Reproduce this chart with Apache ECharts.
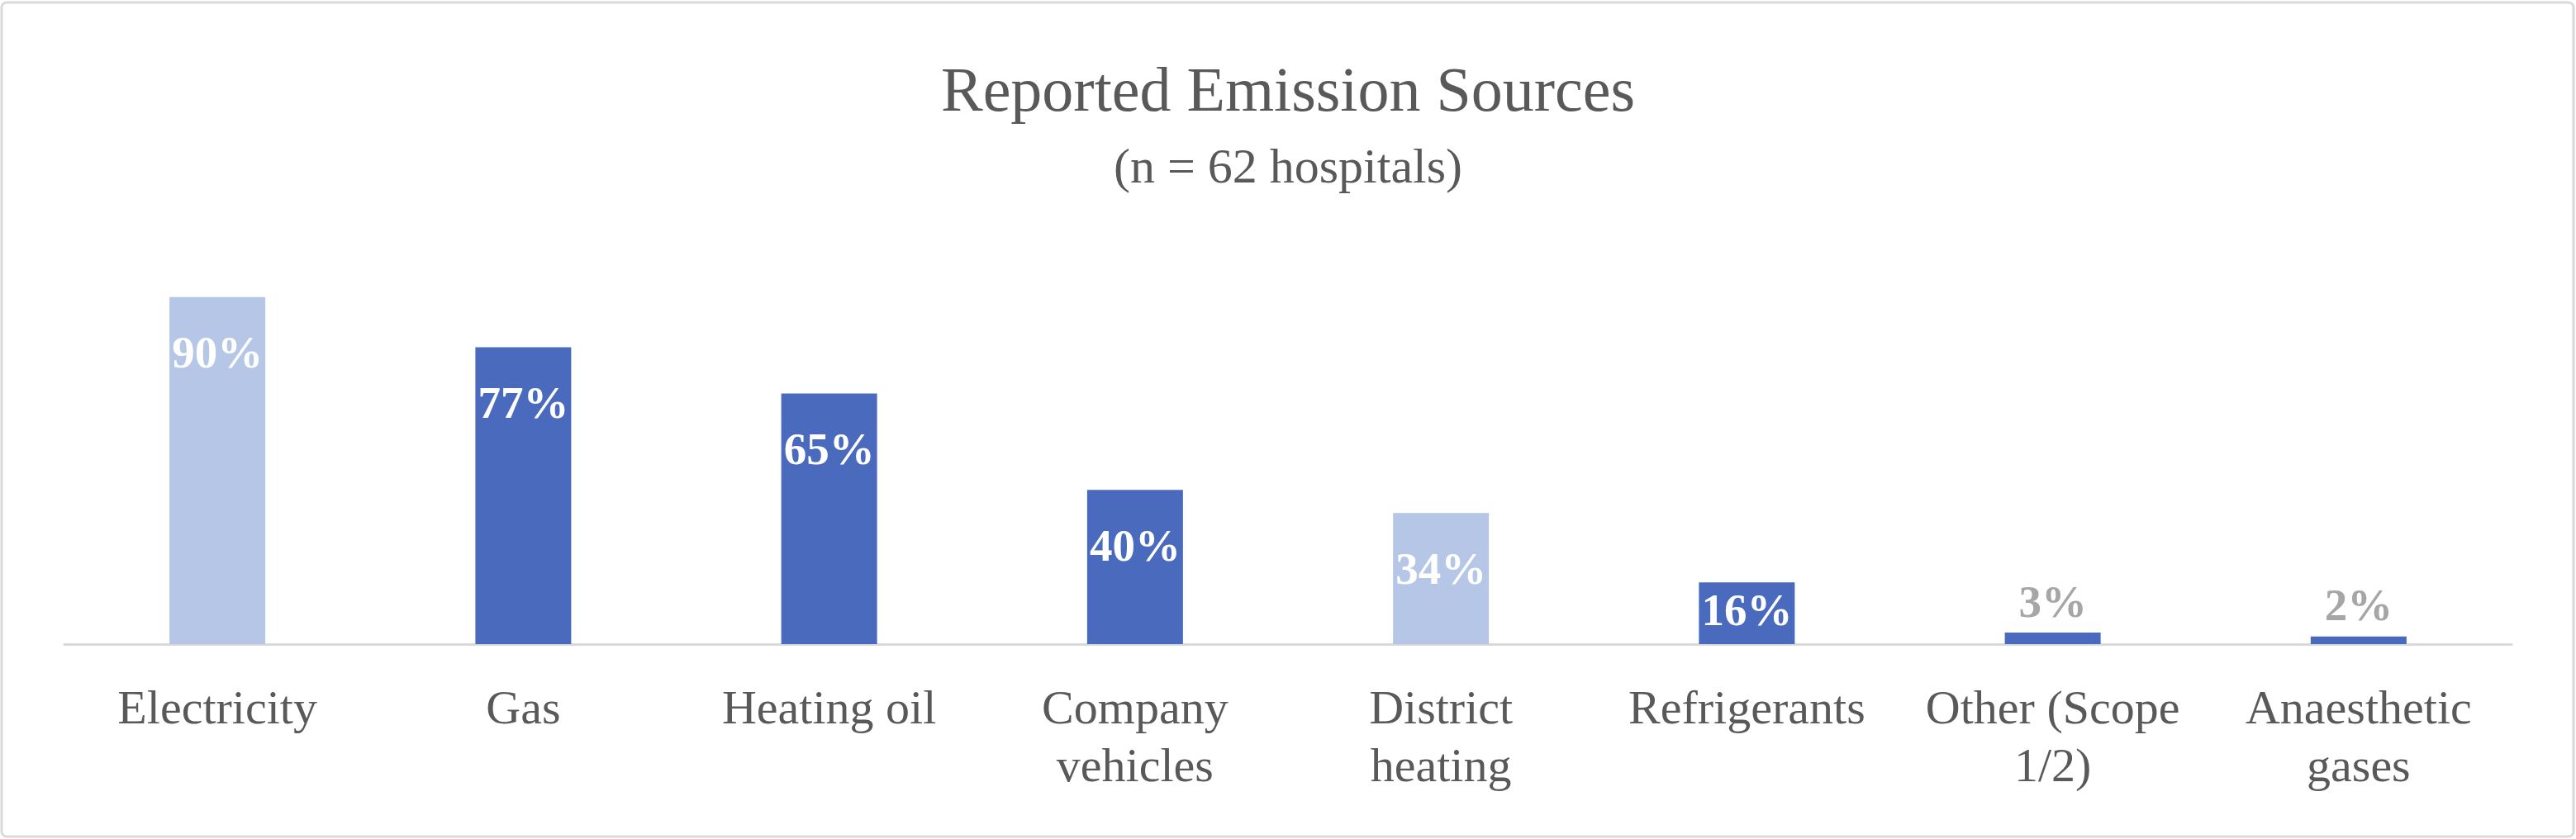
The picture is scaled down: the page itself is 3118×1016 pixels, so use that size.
<!DOCTYPE html>
<html>
<head>
<meta charset="utf-8">
<script src="https://cdn.jsdelivr.net/npm/echarts@6/dist/echarts.min.js"></script>
<style>
html,body{margin:0;padding:0;background:#fff;}
#chart{width:3118px;height:1016px;}
</style>
</head>
<body>
<div id="chart"></div>
<script>
// ---- data ----
const categories = ['Electricity', 'Gas', 'Heating oil', 'Company\nvehicles', 'District\nheating', 'Refrigerants', 'Other (Scope\n1/2)', 'Anaesthetic\ngases'];
const values = [90, 77, 65, 40, 34, 16, 3, 2];
const titleText = 'Reported Emission Sources';
const subtitleText = '(n = 62 hospitals)';

// ---- style ----
const DARK = '#4a6bbd';
const LIGHT = '#b5c6e7';
const barColors = [LIGHT, DARK, DARK, DARK, LIGHT, DARK, DARK, DARK];
const FONT = '"Liberation Serif", "DejaVu Serif", serif';

const seriesData = values.map((v, i) => {
  const item = { value: v, itemStyle: { color: barColors[i] } };
  if (v < 10) {
    item.label = { position: 'top', distance: 6, color: '#a6a6a6' };
  } else if (v < 25) {
    item.label = { position: 'inside' };
  }
  return item;
});

const chart = echarts.init(document.getElementById('chart'), null, { renderer: 'canvas' });
chart.setOption({
  backgroundColor: '#ffffff',
  animation: false,
  title: [
    { text: titleText, left: 'center', top: 70,
      textStyle: { fontFamily: FONT, fontSize: 76, fontWeight: 'normal', color: '#595959', lineHeight: 78 } },
    { text: subtitleText, left: 'center', top: 169,
      textStyle: { fontFamily: FONT, fontSize: 60, fontWeight: 'normal', color: '#595959', lineHeight: 62 } }
  ],
  grid: { left: 78, right: 78, top: 313, bottom: 236, containLabel: false },
  xAxis: {
    type: 'category',
    data: categories,
    axisLine: { lineStyle: { color: '#d9d9d9', width: 3 } },
    axisTick: { show: false },
    axisLabel: { interval: 0, margin: 46, fontFamily: FONT, fontSize: 58, lineHeight: 70, color: '#595959' }
  },
  yAxis: {
    type: 'value', min: 0, max: 100, show: false,
    splitLine: { show: false }
  },
  series: [{
    type: 'bar',
    data: seriesData,
    barWidth: 116,
    label: {
      show: true, position: 'insideTop', distance: 44,
      formatter: '{c}%', fontFamily: FONT, fontSize: 55, fontWeight: 'bold', color: '#ffffff'
    }
  }],
  graphic: [{
    type: 'rect', silent: true,
    shape: { x: 2, y: 3, width: 3113, height: 1010, r: 6 },
    style: { fill: 'none', stroke: '#d9d9d9', lineWidth: 3 }
  }]
});
</script>
</body>
</html>
